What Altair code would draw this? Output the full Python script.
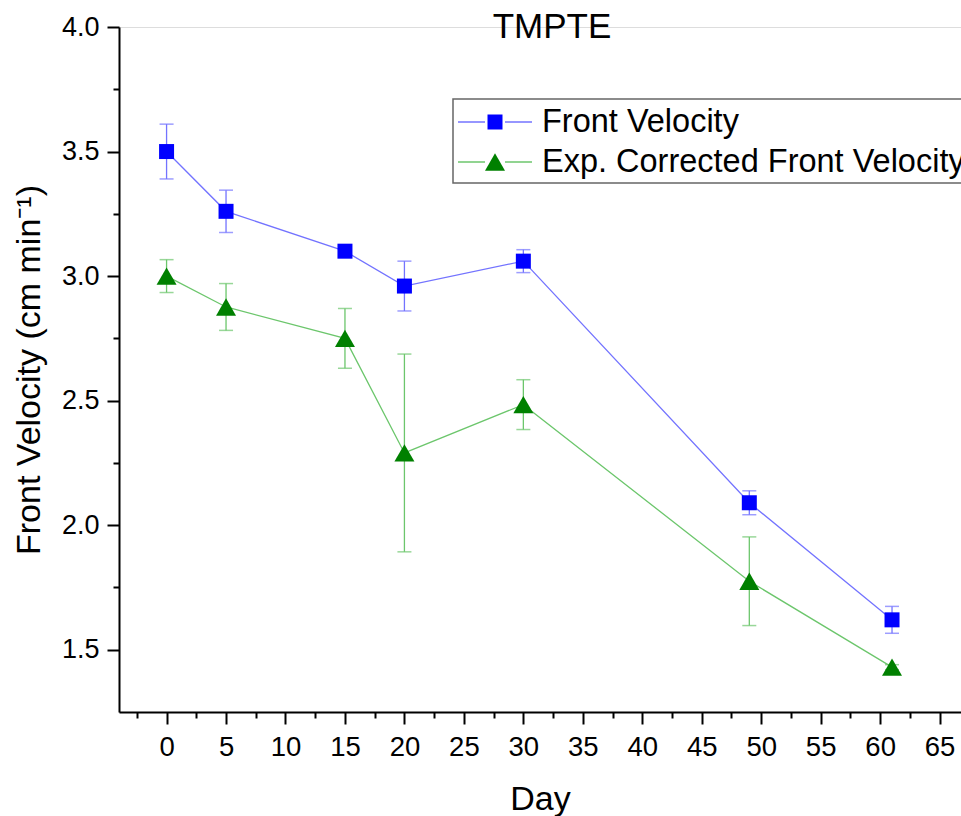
import altair as alt
import pandas as pd

# ---- data ----
days = [0, 5, 15, 20, 30, 49, 61]
front_velocity = [3.50, 3.26, 3.10, 2.96, 3.06, 2.09, 1.62]
front_velocity_err = [0.11, 0.085, 0.02, 0.10, 0.046, 0.048, 0.054]
exp_corrected = [3.00, 2.876, 2.75, 2.29, 2.484, 1.775, 1.43]
exp_corrected_err = [0.066, 0.094, 0.12, 0.397, 0.10, 0.178, 0.01]

series_names = ["Front Velocity", "Exp. Corrected Front Velocity"]
marker_colors = ["#0000FF", "#008000"]
line_colors = ["#7373FF", "#6CC66C"]
shapes = ["square", "triangle-up"]
sizes = [225, 400]
x_major = list(range(0, 70, 5))
x_minor = [-2.5 + 5 * i for i in range(14)]
y_major = [1.5, 2.0, 2.5, 3.0, 3.5, 4.0]
y_minor = [1.75, 2.25, 2.75, 3.25, 3.75]

FONT = "Liberation Sans"
W, H = 842, 685

rows = []
for k, (vals, errs) in enumerate([(front_velocity, front_velocity_err),
                                  (exp_corrected, exp_corrected_err)]):
    for d, v, e in zip(days, vals, errs):
        rows.append({"series": series_names[k], "day": d, "v": v, "lo": v - e, "hi": v + e,
                     "lc": line_colors[k], "mc": marker_colors[k], "shape": shapes[k],
                     "sz": sizes[k]})
df = pd.DataFrame(rows)

xs = alt.Scale(domain=[-4, 66.8], nice=False, zero=False)
ys = alt.Scale(domain=[1.25, 4.0], nice=False, zero=False)
line_col = alt.Color("lc:N", scale=None, legend=None)
mark_col = alt.Color("mc:N", scale=None, legend=None)

x_axis = alt.Axis(values=x_major, title="Day", orient="bottom", labelFontSize=27.5, titleFontSize=34,
                  labelFont=FONT, titleFont=FONT, labelColor="black", titleColor="black",
                  tickSize=12, tickWidth=2, tickColor="black", domainColor="black", domainWidth=2,
                  labelPadding=9, titlePadding=22, grid=False, titleFontWeight="normal", labelFlush=False)
y_axis = alt.Axis(values=y_major, title="Front Velocity (cm min\u207b\u00b9)", orient="left", format=".1f",
                  labelFontSize=27, titleFontSize=34, labelFont=FONT, titleFont=FONT,
                  labelColor="black", titleColor="black", tickSize=12, tickWidth=2, tickColor="black",
                  domainColor="black", domainWidth=2, labelPadding=8, titlePadding=15, grid=False,
                  titleFontWeight="normal", labelFlush=False)

base = alt.Chart(df)

lines = base.mark_line(strokeWidth=1.3).encode(
    x=alt.X("day:Q", scale=xs, axis=x_axis),
    y=alt.Y("v:Q", scale=ys, axis=y_axis),
    color=line_col,
    detail="series:N",
)

minor_x_axis = alt.Axis(values=x_minor, labels=False, title=None, orient="bottom", tickSize=6,
                        tickWidth=2, tickColor="black", domain=False, grid=False)
minor_y_axis = alt.Axis(values=y_minor, labels=False, title=None, orient="left", tickSize=6,
                        tickWidth=2, tickColor="black", domain=False, grid=False)
minor = base.mark_point(opacity=0).encode(
    x=alt.X("day:Q", scale=xs, axis=minor_x_axis),
    y=alt.Y("v:Q", scale=ys, axis=minor_y_axis),
)

err_rule = base.mark_rule(strokeWidth=1.3).encode(
    x=alt.X("day:Q", axis=None), y=alt.Y("lo:Q", axis=None), y2="hi:Q", color=line_col)
cap_lo = base.mark_tick(orient="horizontal", size=14, thickness=1.5).encode(
    x=alt.X("day:Q", axis=None), y=alt.Y("lo:Q", axis=None), color=line_col)
cap_hi = base.mark_tick(orient="horizontal", size=14, thickness=1.5).encode(
    x=alt.X("day:Q", axis=None), y=alt.Y("hi:Q", axis=None), color=line_col)

points = base.mark_point(filled=True, opacity=1, strokeWidth=0).encode(
    x=alt.X("day:Q", axis=None), y=alt.Y("v:Q", axis=None),
    color=mark_col,
    shape=alt.Shape("shape:N", scale=None, legend=None),
    size=alt.Size("sz:Q", scale=None, legend=None),
)

# ---- title ----
title_df = pd.DataFrame({"t": ["TMPTE"]})
title = alt.Chart(title_df).mark_text(font=FONT, fontSize=35, color="black", baseline="middle",
                                      align="center").encode(
    text="t:N", x=alt.value(433), y=alt.value(0))

# ---- hand-drawn legend (line - marker - line) ----
leg_df = pd.DataFrame({"label": series_names})
leg_y = [95, 135]
leg_box = alt.Chart(pd.DataFrame({"a": [0]})).mark_rect(fill="white", stroke="#666666",
                                                         strokeWidth=1.5).encode(
    x=alt.value(334), x2=alt.value(900), y=alt.value(72), y2=alt.value(156))
leg_parts = []
for i in range(2):
    one = alt.Chart(leg_df.iloc[[i]])
    yy = leg_y[i]
    leg_parts.append(one.mark_rule(color=line_colors[i], strokeWidth=1.5).encode(
        x=alt.value(339), x2=alt.value(366), y=alt.value(yy)))
    leg_parts.append(one.mark_rule(color=line_colors[i], strokeWidth=1.5).encode(
        x=alt.value(386), x2=alt.value(413), y=alt.value(yy)))
    leg_parts.append(one.mark_point(filled=True, opacity=1, strokeWidth=0, color=marker_colors[i],
                                    shape=shapes[i], size=sizes[i]).encode(
        x=alt.value(376), y=alt.value(yy)))
    leg_parts.append(one.mark_text(font=FONT, fontSize=32.5, color="black", align="left",
                                   baseline="middle").encode(
        text="label:N", x=alt.value(423), y=alt.value(yy)))

chart = alt.layer(lines, minor, err_rule, cap_lo, cap_hi, points, title, leg_box, *leg_parts).resolve_axis(
    x="independent", y="independent"
).properties(
    width=W, height=H,
    autosize=alt.AutoSizeParams(type="none"),
    padding={"left": 119, "top": 27, "right": 0, "bottom": 104},
).configure_view(stroke=None).configure(background="white")

chart.save("out.html", embed_options={"renderer": "svg", "actions": False})
